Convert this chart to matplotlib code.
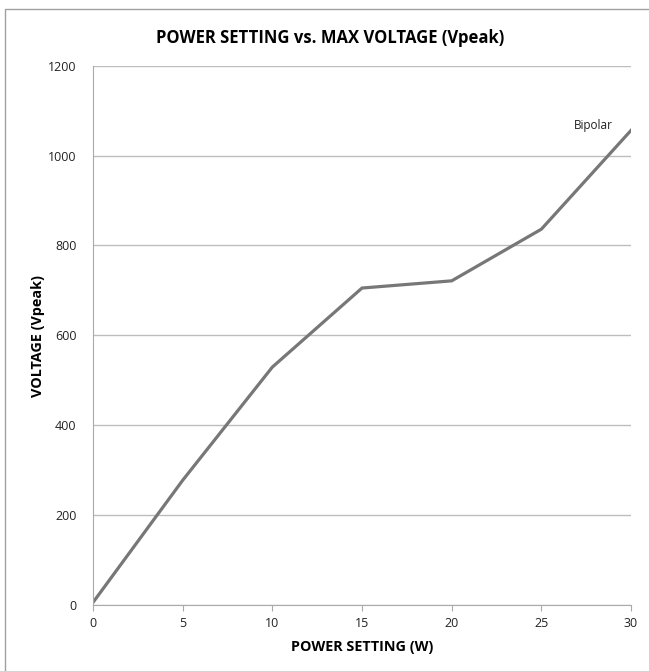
import matplotlib
matplotlib.use("Agg")
import matplotlib.pyplot as plt
from matplotlib.patches import Rectangle

# power setting (W) vs max voltage (Vpeak)
power = [0, 5, 10, 15, 20, 25, 30]
vpeak = [5, 277, 529, 705, 721, 836, 1056]
xticks = [0, 5, 10, 15, 20, 25, 30]
yticks = [0, 200, 400, 600, 800, 1000, 1200]

plt.rcParams['font.family'] = ['Open Sans', 'DejaVu Sans']

fig = plt.figure(figsize=(6.49, 6.71), dpi=100)
# outer chart frame (right and bottom edges are cut off in the original)
fig.patches.append(Rectangle((5/649, -0.1), 1.2, (671-9)/671 + 0.1, transform=fig.transFigure,
                             fill=False, edgecolor='#a0a0a0', linewidth=1))

ax = fig.add_axes([0.1433, 0.0988, 0.8290, 0.8033])
ax.plot(power, vpeak, color='#777777', linewidth=2.3, solid_joinstyle='miter')
ax.set_xlim(0, 30)
ax.set_ylim(0, 1200)
ax.set_xticks(xticks)
ax.set_yticks(yticks)
ax.grid(axis='y', color='#bdbdbd', linewidth=1)
ax.set_axisbelow(True)
for s in ['top', 'right']:
    ax.spines[s].set_visible(False)
for s in ['left', 'bottom']:
    ax.spines[s].set_color('#aaaaaa')
ax.tick_params(axis='both', colors='#aaaaaa', labelcolor='#222222', labelsize=9, direction='out')
ax.tick_params(axis='x', length=4, pad=5)
ax.tick_params(axis='y', length=0, pad=12)

ax.text(27.9, 1066, 'Bipolar', fontsize=8.5, ha='center', va='center', color='#222222')

fig.text(0.509, 0.943, 'POWER SETTING vs. MAX VOLTAGE (Vpeak)', fontsize=12, fontweight='bold',
         ha='center', va='center')
fig.text(362/649, 1 - 647/671, 'POWER SETTING (W)', fontsize=10.4, fontweight='bold',
         ha='center', va='center')
fig.text(38/649, 1 - 336/671, 'VOLTAGE (Vpeak)', fontsize=10.4, fontweight='bold',
         ha='center', va='center', rotation=90)

fig.savefig('out.png', dpi=100)
